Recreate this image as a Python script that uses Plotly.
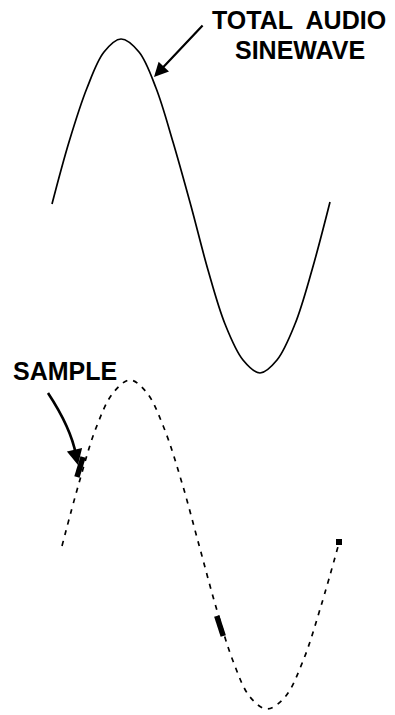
import plotly.graph_objects as go

# readings (horizontal position, level; level grows downward)
wave_x = [52, 69, 87, 104, 121, 139, 156, 173, 191, 208, 225, 243, 260, 277, 295, 312, 330]
wave_y = [204, 142, 88, 52, 39, 52, 88, 142, 206, 270, 324, 360, 373, 360, 324, 270, 202]

sampled_x = [62, 79, 96, 113, 130, 147, 164, 182, 199, 216, 233, 250, 267, 285, 303, 321, 339]
sampled_y = [546, 483, 428, 393, 380, 393, 428, 483, 545, 607, 661, 697, 709, 697, 661, 606, 543]

sample_x = [80, 220, 339]
sample_y = [467, 626, 542]

labels = ["TOTAL  AUDIO", "SINEWAVE", "SAMPLE"]

FONT = "Liberation Sans"

fig = go.Figure()

fig.add_trace(
    go.Scatter(
        x=wave_x,
        y=wave_y,
        mode="lines",
        line=dict(color="black", width=1.7, shape="spline", smoothing=1.0),
    )
)
fig.add_trace(
    go.Scatter(
        x=sampled_x,
        y=sampled_y,
        mode="lines",
        line=dict(color="black", width=1.7, shape="spline", smoothing=1.0, dash="5px,6px"),
    )
)
fig.add_trace(
    go.Scatter(
        x=sample_x,
        y=sample_y,
        mode="markers",
        marker=dict(
            symbol=["line-ns", "line-ns", "square"],
            size=[15, 15, 6],
            angle=[17, -18, 0],
            color="black",
            opacity=1,
            line=dict(color="black", width=[5.5, 5.5, 0]),
        ),
    )
)

# labels
fig.add_annotation(x=299, y=20, text=labels[0], showarrow=False,
                   font=dict(family=FONT, size=25, color="black", weight="bold"))
fig.add_annotation(x=300, y=50, text=labels[1], showarrow=False,
                   font=dict(family=FONT, size=25, color="black", weight="bold"))
fig.add_annotation(x=65, y=371, text=labels[2], showarrow=False,
                   font=dict(family=FONT, size=25, color="black", weight="bold"))

# pointer to the continuous wave
fig.add_annotation(x=154, y=77, ax=204, ay=24, axref="x", ayref="y", text="",
                   showarrow=True, arrowhead=2, arrowsize=1.3, arrowwidth=2.2,
                   arrowcolor="black")

# curved pointer to the first sample
fig.add_shape(type="path", path="M 48,393 Q 71,428 76,455",
              line=dict(color="black", width=2.6))
fig.add_annotation(x=78, y=465, ax=75, ay=452, axref="x", ayref="y", text="",
                   showarrow=True, arrowhead=2, arrowsize=1.2, arrowwidth=2.6,
                   arrowcolor="black")

fig.update_xaxes(range=[0, 395], visible=False)
fig.update_yaxes(range=[715, 0], visible=False)
fig.update_layout(
    width=395,
    height=715,
    margin=dict(l=0, r=0, t=0, b=0),
    paper_bgcolor="white",
    plot_bgcolor="white",
    showlegend=False,
)

# drop the page's default body margin so the figure sits at the window corner
fig.write_html(
    "out.html",
    config={"displayModeBar": False},
    post_script="document.body.style.margin='0';",
)
